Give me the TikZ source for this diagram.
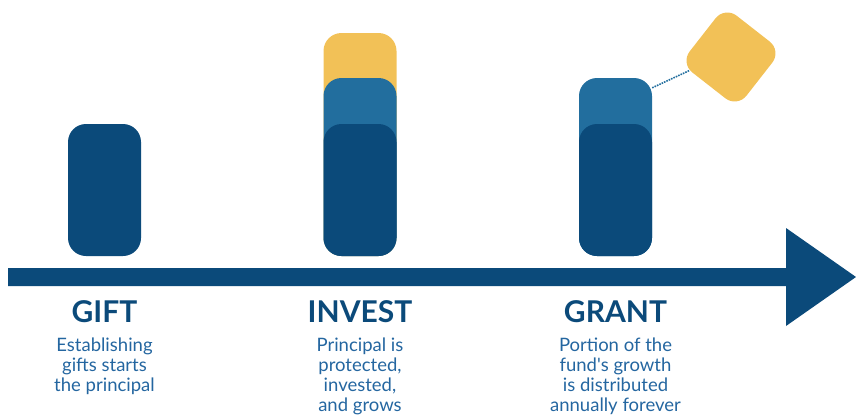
\documentclass[tikz,border=0pt]{standalone}
\usepackage{fontspec}
\setmainfont{Lato}
\usetikzlibrary{positioning}
\definecolor{gdark}{HTML}{0B4A7A}
\definecolor{gmid}{HTML}{226E9E}
\definecolor{gyellow}{HTML}{F2C157}
\definecolor{gtext}{HTML}{2466A0}
\tikzset{
  bar/.style={rounded corners=18pt,minimum width=73pt,inner sep=0pt},
  stagetitle/.style={font=\fontsize{30}{32}\selectfont\bfseries,text=gdark,anchor=base},
  stagetext/.style={font=\fontsize{18.5}{20}\selectfont,text=gtext,align=center,anchor=north,inner sep=0pt}
}
\begin{document}
\begin{tikzpicture}[x=1pt,y=-1pt]
  \useasboundingbox (0,0) rectangle (856,415);
  % timeline
  \fill[gdark] (8,268) -- (786,268) -- (786,228) -- (856,277) -- (786,326) -- (786,286) -- (8,286) -- cycle;
  % gift
  \node[bar,fill=gdark,minimum height=132pt] (giftbase) at (104.5,190) {};
  % invest
  \node[bar,fill=gyellow,minimum height=223pt] (investtop) at (360,144.5) {};
  \node[bar,fill=gmid,minimum height=178pt] (investmid) at (360,167) {};
  \node[bar,fill=gdark,minimum height=132pt] (investbase) at (360,190) {};
  % grant
  \node[bar,fill=gmid,minimum height=178pt] (grantmid) at (615.5,167) {};
  \node[bar,fill=gdark,minimum height=132pt] (grantbase) at (615.5,190) {};
  \node[rounded corners=15pt,fill=gyellow,minimum size=72pt,inner sep=0pt,rotate=52] (growth) at (731,57) {};
  \draw[gmid,line width=1.6pt,densely dotted] ([yshift=-10pt]grantmid.north east) -- (growth.146);
  % labels
  \node[stagetitle] (gifttitle) at (104.5,322) {GIFT};
  \node[stagetext] (gifttext) at (104.5,338) {Establishing\\gifts starts\\the principal};
  \node[stagetitle] (investtitle) at (360,322) {INVEST};
  \node[stagetext] (investtext) at (360,338) {Principal is\\protected,\\invested,\\and grows};
  \node[stagetitle] (granttitle) at (615.5,322) {GRANT};
  \node[stagetext] (granttext) at (615.5,338) {Portion of the\\fund\textquotesingle s growth\\is distributed\\annually forever};
\end{tikzpicture}
\end{document}
